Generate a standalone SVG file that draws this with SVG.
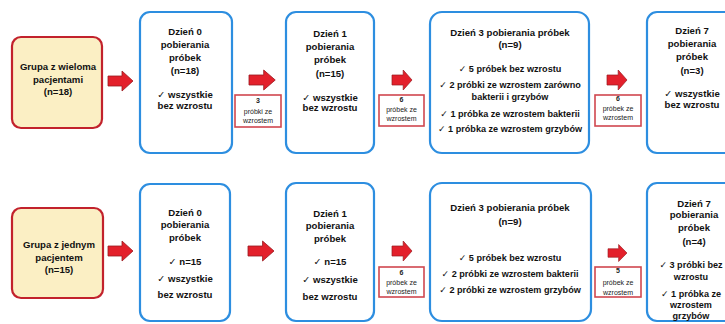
<svg xmlns="http://www.w3.org/2000/svg" xmlns:xlink="http://www.w3.org/1999/xlink" width="725" height="324" viewBox="0 0 725 324">
<style>
text{font-family:"Liberation Sans","DejaVu Sans",Arial,sans-serif;font-weight:bold;fill:#111;text-anchor:middle}
.t{font-size:9.6px}
.n{font-size:9.1px}
.s{font-size:7px;font-weight:normal;fill:#222}
.grp{fill:#fbefc4;stroke:#c2222c;stroke-width:2.2}
.day{fill:#fff;stroke:#2d8ee0;stroke-width:2.2}
.lbl{fill:#fff;stroke:#d0474f;stroke-width:1.6}
.arr{fill:#e3202b;stroke:#9a1a20;stroke-width:0.8}
</style>
<defs>
<path id="arr" d="M0,-5 L14,-5 L14,-10 L25,0 L14,10 L14,5 L0,5 Z"/>
</defs>
<rect width="725" height="324" fill="#fff"/>

<g id="connectors">
<use xlink:href="#arr" class="arr" transform="translate(108,81)"/>
<use xlink:href="#arr" class="arr" transform="translate(249,80) scale(1.05,1)"/>
<use xlink:href="#arr" class="arr" transform="translate(392,80) scale(0.8,1)"/>
<use xlink:href="#arr" class="arr" transform="translate(607,80) scale(0.8,1)"/>
<use xlink:href="#arr" class="arr" transform="translate(108,251)"/>
<use xlink:href="#arr" class="arr" transform="translate(248,251) scale(1.04,1)"/>
<use xlink:href="#arr" class="arr" transform="translate(392,251) scale(0.8,1)"/>
<use xlink:href="#arr" class="arr" transform="translate(608,253) scale(0.76,0.85)"/>
</g>

<g id="lbl1">
<rect class="lbl" x="235" y="95" width="46" height="32"/>
<text class="s" x="258" y="103" style="font-weight:bold">3</text>
<text class="s" x="258" y="114">próbki ze</text>
<text class="s" x="258" y="123">wzrostem</text>
</g>
<g id="lbl2">
<rect class="lbl" x="379" y="95" width="45" height="31"/>
<text class="s" x="401.5" y="102" style="font-weight:bold">6</text>
<text class="s" x="401.5" y="112">próbek ze</text>
<text class="s" x="401.5" y="121">wzrostem</text>
</g>
<g id="lbl3">
<rect class="lbl" x="595" y="95" width="46" height="31"/>
<text class="s" x="618" y="101" style="font-weight:bold">6</text>
<text class="s" x="618" y="111">próbek ze</text>
<text class="s" x="618" y="120">wzrostem</text>
</g>
<g id="lbl4">
<rect class="lbl" x="379" y="267" width="45" height="30"/>
<text class="s" x="401.5" y="275" style="font-weight:bold">6</text>
<text class="s" x="401.5" y="285">próbek ze</text>
<text class="s" x="401.5" y="294">wzrostem</text>
</g>
<g id="lbl5">
<rect class="lbl" x="595" y="267" width="46" height="30"/>
<text class="s" x="618" y="273" style="font-weight:bold">5</text>
<text class="s" x="618" y="285">próbek ze</text>
<text class="s" x="618" y="295">wzrostem</text>
</g>

<g id="grp1">
<rect class="grp" x="12" y="37" width="90" height="91" rx="9"/>
<text class="t" x="58" y="70">Grupa z wieloma</text>
<text class="t" x="58" y="83">pacjentami</text>
<text class="t" x="58" y="95">(n=18)</text>
</g>
<g id="d0a">
<rect class="day" x="140" y="12" width="92" height="141" rx="10"/>
<text class="t" x="185" y="35">Dzień 0</text>
<text class="t" x="185" y="48">pobierania</text>
<text class="t" x="185" y="61">próbek</text>
<text class="t" x="185" y="74">(n=18)</text>
<text class="t" x="185" y="98">✓ wszystkie</text>
<text class="t" x="185" y="109">bez wzrostu</text>
</g>
<g id="d1a">
<rect class="day" x="286" y="12" width="88" height="141" rx="10"/>
<text class="t" x="330" y="37">Dzień 1</text>
<text class="t" x="330" y="50">pobierania</text>
<text class="t" x="330" y="63">próbek</text>
<text class="t" x="330" y="77">(n=15)</text>
<text class="t" x="330" y="101">✓ wszystkie</text>
<text class="t" x="330" y="111">bez wzrostu</text>
</g>
<g id="d3a">
<rect class="day" x="430" y="12" width="159" height="141" rx="12"/>
<text class="t" x="510" y="36">Dzień 3 pobierania próbek</text>
<text class="t" x="510" y="48">(n=9)</text>
<text class="n" x="510" y="72">✓ 5 próbek bez wzrostu</text>
<text class="n" x="510" y="88">✓ 2 próbki ze wzrostem zarówno</text>
<text class="n" x="510" y="100">bakterii i grzybów</text>
<text class="n" x="510" y="117">✓ 1 próbka ze wzrostem bakterii</text>
<text class="n" x="510" y="132">✓ 1 próbka ze wzrostem grzybów</text>
</g>
<g id="d7a">
<rect class="day" x="647" y="12" width="90" height="141" rx="10"/>
<text class="t" x="692" y="34">Dzień 7</text>
<text class="t" x="692" y="47">pobierania</text>
<text class="t" x="692" y="60">próbek</text>
<text class="t" x="692" y="74">(n=3)</text>
<text class="t" x="692" y="97">✓ wszystkie</text>
<text class="t" x="692" y="108">bez wzrostu</text>
</g>

<g id="grp2">
<rect class="grp" x="12" y="208" width="91" height="90" rx="9"/>
<text class="t" x="59" y="248">Grupa z jednym</text>
<text class="t" x="59" y="261">pacjentem</text>
<text class="t" x="59" y="273">(n=15)</text>
</g>
<g id="d0b">
<rect class="day" x="140" y="184" width="90" height="137" rx="10"/>
<text class="t" x="185" y="216">Dzień 0</text>
<text class="t" x="185" y="228">pobierania</text>
<text class="t" x="185" y="241">próbek</text>
<text class="t" x="185" y="265">✓ n=15</text>
<text class="t" x="185" y="282">✓ wszystkie</text>
<text class="t" x="185" y="298">bez wzrostu</text>
</g>
<g id="d1b">
<rect class="day" x="286" y="183" width="88" height="138" rx="10"/>
<text class="t" x="330" y="217">Dzień 1</text>
<text class="t" x="330" y="229">pobierania</text>
<text class="t" x="330" y="242">próbek</text>
<text class="t" x="330" y="265">✓ n=15</text>
<text class="t" x="330" y="283">✓ wszystkie</text>
<text class="t" x="330" y="300">bez wzrostu</text>
</g>
<g id="d3b">
<rect class="day" x="430" y="183" width="161" height="138" rx="12"/>
<text class="t" x="510" y="211">Dzień 3 pobierania próbek</text>
<text class="t" x="510" y="225">(n=9)</text>
<text class="n" x="510" y="261">✓ 5 próbek bez wzrostu</text>
<text class="n" x="510" y="277">✓ 2 próbki ze wzrostem bakterii</text>
<text class="n" x="510" y="293">✓ 2 próbki ze wzrostem grzybów</text>
</g>
<g id="d7b">
<rect class="day" x="647" y="183" width="90" height="138" rx="10"/>
<text class="t" x="694" y="207">Dzień 7</text>
<text class="t" x="694" y="218">pobierania</text>
<text class="t" x="694" y="231">próbek</text>
<text class="t" x="694" y="245">(n=4)</text>
<text class="n" x="691" y="268">✓ 3 próbki bez</text>
<text class="n" x="691" y="280">wzrostu</text>
<text class="n" x="691" y="297">✓ 1 próbka ze</text>
<text class="n" x="691" y="308">wzrostem</text>
<text class="n" x="691" y="319">grzybów</text>
</g>
</svg>
